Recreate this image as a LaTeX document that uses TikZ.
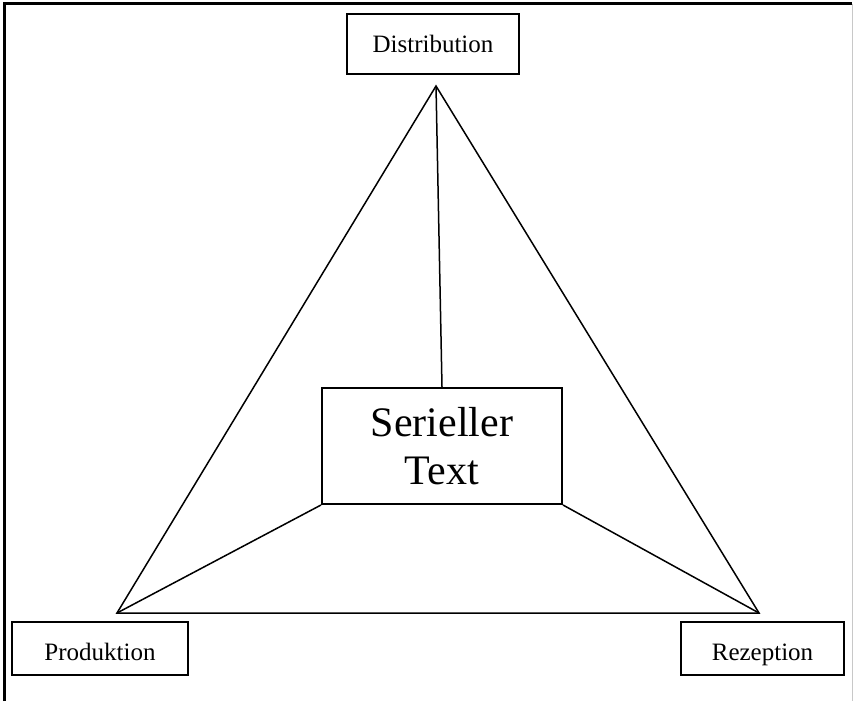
\documentclass[tikz,border=0pt]{standalone}
\usepackage{fontspec}
\setmainfont{Liberation Serif}
\usepackage{tikz}
\usetikzlibrary{positioning}
\definecolor{framegray}{RGB}{200,200,200}
\tikzset{
  corner/.style={draw, line width=2pt, inner sep=0pt, align=center,
    minimum height=53pt, text height=17pt, text depth=0pt,
    font=\fontsize{25}{30}\selectfont},
  lowcorner/.style={corner, text height=23pt},
  centerbox/.style={draw, line width=2pt, inner sep=0pt, align=center,
    minimum width=240pt, minimum height=116pt, font=\fontsize{42}{48.5}\selectfont},
  edge/.style={line width=1.5pt}
}
\begin{document}
\begin{tikzpicture}[x=1pt,y=-1pt]
  \useasboundingbox (0,0) rectangle (853,701);
  % outer frame
  \draw[line width=3pt] (4,701) -- (4,4) -- (852,4);
  \draw[line width=1pt,framegray] (852,4) -- (852,701);

  \node[corner, minimum width=172pt, minimum height=60pt] (dist) at (433,44) {Distribution};
  \node[lowcorner, minimum width=176pt] (prod) at (100,648.5) {Produktion};
  \node[lowcorner, minimum width=163pt] (rez) at (762.5,648.5) {Rezeption};
  \node[centerbox] (text) at (442,446) {Serieller\\Text};

  \coordinate (top) at (436,86);
  \coordinate (left) at (117,613);
  \coordinate (right) at (759,613);

  \draw[edge] (left) -- (top) -- (right) -- cycle;
  \draw[edge] (top) -- (text.north);
  \draw[edge] (text.south west) -- (left);
  \draw[edge] (text.south east) -- (right);
\end{tikzpicture}
\end{document}
